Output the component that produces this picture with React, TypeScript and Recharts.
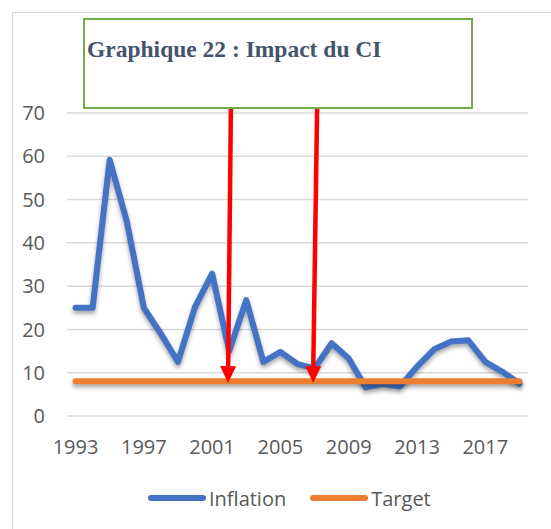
import { LineChart, Line, XAxis, YAxis, CartesianGrid, Legend, ReferenceLine } from "recharts";

// Inflation vs target, 1993-2019
const years = [
  1993, 1994, 1995, 1996, 1997, 1998, 1999, 2000, 2001, 2002, 2003, 2004, 2005, 2006,
  2007, 2008, 2009, 2010, 2011, 2012, 2013, 2014, 2015, 2016, 2017, 2018, 2019,
];
const inflation = [
  25, 25, 59.2, 45, 25, 19, 12.5, 25.2, 32.9, 15, 26.8, 12.5, 14.8, 12, 11, 16.8, 13.3,
  6.6, 7.4, 6.8, 11.4, 15.4, 17.2, 17.5, 12.5, 10.2, 7.5,
];
const target = [8, 8, 8, 8, 8, 8, 8, 8, 8, 8, 8, 8, 8, 8, 8, 8, 8, 8, 8, 8, 8, 8, 8, 8, 8, 8, 8];

const yearTicks = [1993, 1997, 2001, 2005, 2009, 2013, 2017];
const valueTicks = [0, 10, 20, 30, 40, 50, 60, 70];

// arrows from the title box down to the target line (year, value)
const arrowStarts = [
  { x: 2002.1, y: 71.2 },
  { x: 2007.15, y: 71.2 },
];
const arrowEnds = [
  { x: 2001.93, y: 7.6 },
  { x: 2006.91, y: 7.6 },
];

const title = "Graphique 22 : Impact du CI";

const series = [
  { key: "inflation", name: "Inflation", color: "#4472c4" },
  { key: "target", name: "Target", color: "#ed7d31" },
];

const data = years.map((year, i) => ({
  year,
  inflation: inflation[i],
  target: target[i],
}));

const tickStyle = { fill: "#595959", fontSize: 20, fontFamily: "Open Sans" };

const Arrow = (props: any) => {
  const { x1, y1, x2, y2 } = props;
  const dx = x2 - x1;
  const dy = y2 - y1;
  const len = Math.sqrt(dx * dx + dy * dy) || 1;
  const ux = dx / len;
  const uy = dy / len;
  const head = 17;
  const half = 8;
  const bx = x2 - ux * head;
  const by = y2 - uy * head;
  return (
    <g>
      <line x1={x1} y1={y1} x2={bx} y2={by} stroke="#ff0000" strokeWidth={4.5} />
      <polygon
        points={`${x2},${y2} ${bx - uy * half},${by + ux * half} ${bx + uy * half},${by - ux * half}`}
        fill="#ff0000"
      />
    </g>
  );
};

const LegendContent = () => (
  <div
    style={{
      display: "flex",
      alignItems: "center",
      height: 30,
      paddingLeft: 148,
      fontFamily: "Open Sans",
      fontSize: 20,
      color: "#595959",
    }}
  >
    {series.map((s, i) => (
      <div key={s.key} style={{ display: "flex", alignItems: "center", marginLeft: i ? 24 : 0 }}>
        <svg width={58} height={8}>
          <line x1={3} y1={4} x2={55} y2={4} stroke={s.color} strokeWidth={6} strokeLinecap="round" />
        </svg>
        <span style={{ marginLeft: 3 }}>{s.name}</span>
      </div>
    ))}
  </div>
);

export default function App() {
  return (
    <div
      style={{
        position: "absolute",
        left: 0,
        top: 0,
        width: 551,
        height: 529,
        overflow: "hidden",
        background: "#fff",
      }}
    >
      <style>{`.shadowed .recharts-curve { filter: drop-shadow(0px 3px 2px rgba(0,0,0,0.35)); }`}</style>
      <div
        style={{
          position: "absolute",
          left: 12,
          top: 12,
          width: 600,
          height: 600,
          border: "1.5px solid #d9d9d9",
        }}
      />
      <div style={{ position: "absolute", left: 0, top: 0 }}>
        <LineChart width={551} height={529} data={data} margin={{ top: 113, right: 23, left: 0, bottom: 43 }}>
          <CartesianGrid vertical={false} stroke="#d9d9d9" strokeWidth={1.5} />
          <XAxis
            dataKey="year"
            type="number"
            domain={[1992.5, 2019.5]}
            ticks={yearTicks}
            axisLine={false}
            tickLine={false}
            tickMargin={18}
            height={40}
            tick={tickStyle}
          />
          <YAxis
            domain={[0, 70]}
            ticks={valueTicks}
            axisLine={false}
            tickLine={false}
            tickMargin={16}
            width={67}
            tick={tickStyle}
          />
          {series.map((s) => (
            <Line
              key={s.key}
              className="shadowed"
              dataKey={s.key}
              name={s.name}
              stroke={s.color}
              strokeWidth={6}
              strokeLinecap="round"
              strokeLinejoin="round"
              dot={false}
              activeDot={false}
              isAnimationActive={false}
            />
          ))}
          {arrowStarts.map((start, i) => (
            <ReferenceLine
              key={i}
              segment={[start, arrowEnds[i]]}
              ifOverflow="visible"
              shape={Arrow}
            />
          ))}
          <Legend
            verticalAlign="bottom"
            content={<LegendContent />}
            wrapperStyle={{ top: 483, bottom: "auto", left: 0, width: 551 }}
          />
        </LineChart>
      </div>
      <div
        style={{
          position: "absolute",
          left: 83,
          top: 18,
          width: 390,
          height: 91,
          boxSizing: "border-box",
          border: "2.5px solid #70ad47",
          background: "#fff",
        }}
      />
      <div
        style={{
          position: "absolute",
          left: 87,
          top: 36,
          lineHeight: "26px",
          fontFamily: "Liberation Serif",
          fontWeight: "bold",
          fontSize: 23.5,
          color: "#44546a",
          whiteSpace: "nowrap",
        }}
      >
        {title}
      </div>
    </div>
  );
}
